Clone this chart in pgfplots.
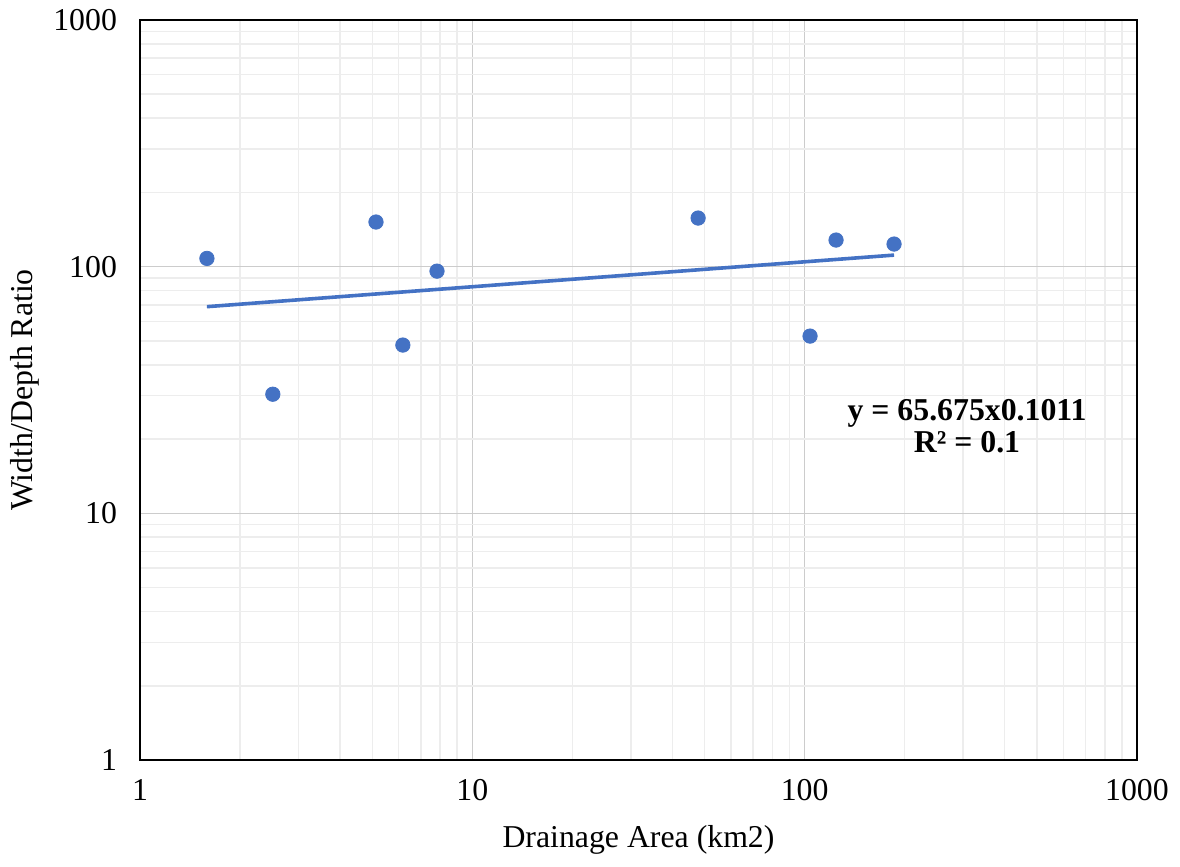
\documentclass[border=0pt]{standalone}
\usepackage{pgfplots}
\pgfplotsset{compat=1.18}
\usepackage{fontspec}
\setmainfont{Liberation Serif}
\definecolor{xlblue}{HTML}{4472C4}
\begin{document}
\begin{tikzpicture}
\path[use as bounding box] (-70pt,-53.5pt) rectangle (520pt,380pt);
\begin{axis}[
  at={(0,0)}, anchor=south west,
  scale only axis, width=498.5pt, height=370pt,
  xmode=log, ymode=log,
  xmin=1, xmax=1000, ymin=1, ymax=1000,
  xtick={1,10,100,1000}, xticklabels={1,10,100,1000},
  ytick={1,10,100,1000}, yticklabels={1,10,100,1000},
  minor xtick={2,3,4,5,6,7,8,9,20,30,40,50,60,70,80,90,200,300,400,500,600,700,800,900},
  minor ytick={2,3,4,5,6,7,8,9,20,30,40,50,60,70,80,90,200,300,400,500,600,700,800,900},
  major tick length=0pt, minor tick length=0pt,
  grid=both,
  major grid style={draw=black!20, line width=0.8pt},
  minor grid style={draw=black!7, line width=0.75pt},
  axis line style={black, line width=1pt},
  tick label style={font=\fontsize{15.9}{18}\selectfont},
  xticklabel style={yshift=-6pt},
  yticklabel style={xshift=-8pt},
  xlabel={Drainage Area (km2)},
  ylabel={Width/Depth Ratio},
  label style={font=\fontsize{15.9}{18}\selectfont},
  xlabel style={at={(axis description cs:0.5,-0.108)}, anchor=center},
  ylabel style={at={(axis description cs:-0.1153,0.5)}, anchor=center, rotate=0},
  clip=false,
]
\addplot[xlblue, line width=1.8pt, no marks] coordinates {
  (1.59,68.83) (185.8,111.4)
};
\addplot[only marks, mark=*, mark size=3.6pt, mark options={draw=xlblue, fill=xlblue}] coordinates {
  (1.59,108) (2.51,30.4) (5.13,151.7) (6.18,48.1) (7.83,95.9)
  (47.8,157.4) (103.8,52.3) (124.3,128.2) (185.8,123.5)
};
\node[align=center, font=\fontsize{15.9}{16}\selectfont\bfseries, anchor=center] at (axis cs:308,22.6) {y = 65.675x0.1011\\R² = 0.1};
\end{axis}
\end{tikzpicture}
\end{document}
